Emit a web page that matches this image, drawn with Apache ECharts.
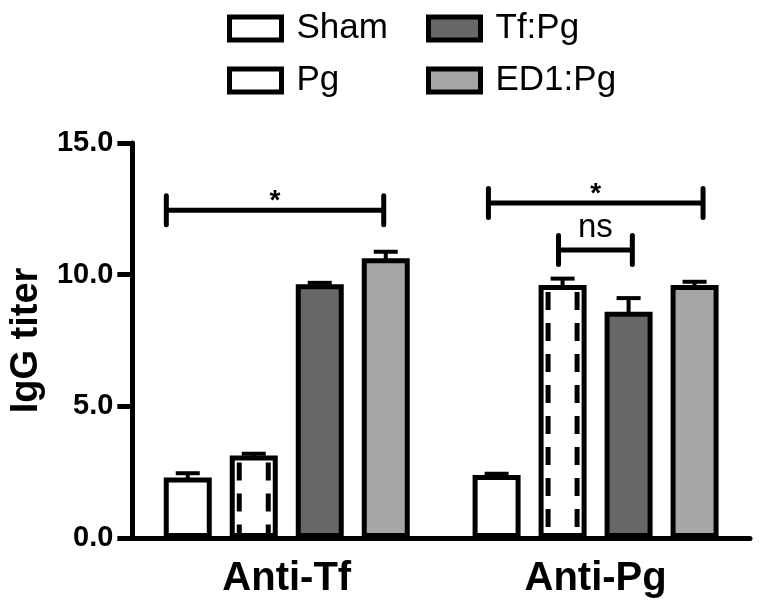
<!DOCTYPE html>
<html><head><meta charset="utf-8">
<script src="https://cdn.jsdelivr.net/npm/echarts@6/dist/echarts.min.js"></script>
<style>html,body{margin:0;padding:0;background:#fff}#c{width:761px;height:613px}</style>
</head><body><div id="c"></div>
<script>
// ---- data ----
const categories = ['Anti-Tf', 'Anti-Pg'];
const seriesNames = ['Sham', 'Pg', 'Tf:Pg', 'ED1:Pg'];
const shamValues = [2.3, 2.39];
const pgValues = [3.13, 9.61];
const tfPgValues = [9.64, 8.59];
const ed1PgValues = [10.62, 9.61];
const shamErr = [0.16, 0.05];
const pgErr = [0.07, 0.24];
const tfPgErr = [0.05, 0.52];
const ed1PgErr = [0.25, 0.12];
const yTicks = [0, 5, 10, 15];
// significance brackets (x in group units: 0..2 across the two categories)
const bracketStart = [0.11, 1.153, 1.38];
const bracketEnd = [0.814, 1.848, 1.619];
const bracketY = [12.45, 12.72, 10.94];
const bracketLabels = ['*', '*', 'ns'];

// ---- style ----
const FONT = '"Liberation Sans", Arial, sans-serif';
const BAR_W = 48, BW = 5, GAP_PX = 18;
const STEP = BAR_W + GAP_PX;
const fills = ['#ffffff', '#ffffff', '#676767', '#a6a6a6'];

const values = [shamValues, pgValues, tfPgValues, ed1PgValues];
const errs = [shamErr, pgErr, tfPgErr, ed1PgErr];

const errData = [];
values.forEach((arr, s) => arr.forEach((v, c) => errData.push([c, s, v, errs[s][c]])));

const barSeries = seriesNames.map((n, i) => ({
  name: n, type: 'bar', xAxisIndex: 0, yAxisIndex: 0,
  data: values[i], barWidth: BAR_W, barGap: (GAP_PX / BAR_W * 100) + '%',
  itemStyle: { color: fills[i], borderColor: '#000', borderWidth: BW },
  z: 2
}));

const errSeries = {
  type: 'custom', name: '_err', xAxisIndex: 0, yAxisIndex: 0, z: 4,
  data: errData,
  renderItem(params, api) {
    const c = api.value(0), s = api.value(1), v = api.value(2), e = api.value(3);
    const base = api.coord([c, v]);
    const top = api.coord([c, v + e]);
    const x = base[0] + (s - 1.5) * STEP;
    return { type: 'group', children: [
      { type: 'line', shape: { x1: x, y1: base[1] + 2, x2: x, y2: top[1] }, style: { stroke: '#000', lineWidth: 4 } },
      { type: 'line', shape: { x1: x - 12, y1: top[1], x2: x + 12, y2: top[1] }, style: { stroke: '#000', lineWidth: 4 } }
    ]};
  }
};

const dashSeries = {
  type: 'custom', name: '_pgdash', xAxisIndex: 0, yAxisIndex: 0, z: 3,
  data: pgValues.map((v, c) => [c, v]),
  renderItem(params, api) {
    const c = api.value(0), v = api.value(1);
    const top = api.coord([c, v]);
    const bot = api.coord([c, 0]);
    const cx = top[0] - 0.5 * STEP;
    const off = BAR_W / 2 - 9.5;
    const st = { stroke: '#000', lineWidth: 5, lineDash: [18, 13] };
    return { type: 'group', children: [
      { type: 'line', shape: { x1: cx - off, y1: top[1] + 7, x2: cx - off, y2: bot[1] - 2 }, style: st },
      { type: 'line', shape: { x1: cx + off, y1: top[1] + 7, x2: cx + off, y2: bot[1] - 2 }, style: st }
    ]};
  }
};

const bracketSeries = {
  type: 'custom', name: '_brackets', xAxisIndex: 1, yAxisIndex: 0, z: 5,
  data: bracketStart.map((x, i) => [x, bracketEnd[i], bracketY[i]]),
  renderItem(params, api) {
    const p0 = api.coord([api.value(0), api.value(2)]);
    const p1 = api.coord([api.value(1), api.value(2)]);
    const y = p0[1], h = 14.5;
    const label = bracketLabels[params.dataIndex];
    const star = label === '*';
    const ln = { stroke: '#000', lineWidth: 5, lineCap: 'round' };
    return { type: 'group', children: [
      { type: 'line', shape: { x1: p0[0], y1: y, x2: p1[0], y2: y }, style: { stroke: '#000', lineWidth: 5 } },
      { type: 'line', shape: { x1: p0[0], y1: y - h, x2: p0[0], y2: y + h }, style: ln },
      { type: 'line', shape: { x1: p1[0], y1: y - h, x2: p1[0], y2: y + h }, style: ln },
      { type: 'text', x: (p0[0] + p1[0]) / 2, y: y - (star ? 9 : 22),
        style: { text: label, fill: '#000', align: 'center', verticalAlign: 'middle',
          font: star ? 'bold 28px ' + FONT : '33px ' + FONT } }
    ]};
  }
};

const legendBase = {
  orient: 'vertical', top: 6, itemWidth: 52, itemHeight: 23, itemGap: 17, icon: 'rect',
  itemStyle: { borderWidth: BW, borderColor: '#000' },
  textStyle: { fontSize: 35, lineHeight: 35, fontFamily: FONT, color: '#000', padding: [0, 0, 0, 10] },
  selectedMode: false
};

const chart = echarts.init(document.getElementById('c'), null, { renderer: 'canvas' });
chart.setOption({
  backgroundColor: '#fff',
  animation: false,
  legend: [
    Object.assign({}, legendBase, { data: [seriesNames[0], seriesNames[1]], left: 222 }),
    Object.assign({}, legendBase, { data: [seriesNames[2], seriesNames[3]], left: 421 })
  ],
  grid: { left: 131, top: 143, width: 619, height: 395, containLabel: false },
  xAxis: [{
    type: 'category', data: categories, gridIndex: 0,
    axisLine: { lineStyle: { color: '#000', width: 5 } },
    axisTick: { alignWithLabel: true, length: 17, lineStyle: { color: '#000', width: 5 } },
    axisLabel: { fontSize: 40, fontWeight: 'bold', color: '#000', fontFamily: FONT, margin: 21 },
    splitLine: { show: false }
  }, {
    type: 'value', min: 0, max: 2, show: false, gridIndex: 0
  }],
  yAxis: {
    type: 'value', min: 0, max: 15, interval: 5,
    axisLine: { show: true, lineStyle: { color: '#000', width: 5 } },
    axisTick: { show: true, length: 15, lineStyle: { color: '#000', width: 5 }, customValues: yTicks },
    axisLabel: { fontSize: 29, fontWeight: 'bold', color: '#000', fontFamily: FONT, margin: 19,
      customValues: yTicks, formatter: v => Number(v).toFixed(1) },
    splitLine: { show: false },
    name: 'IgG titer', nameLocation: 'middle', nameGap: 76, nameRotate: 90,
    nameTextStyle: { fontSize: 38, fontWeight: 'bold', color: '#000', fontFamily: FONT }
  },
  series: barSeries.concat([dashSeries, errSeries, bracketSeries])
});
</script></body></html>
